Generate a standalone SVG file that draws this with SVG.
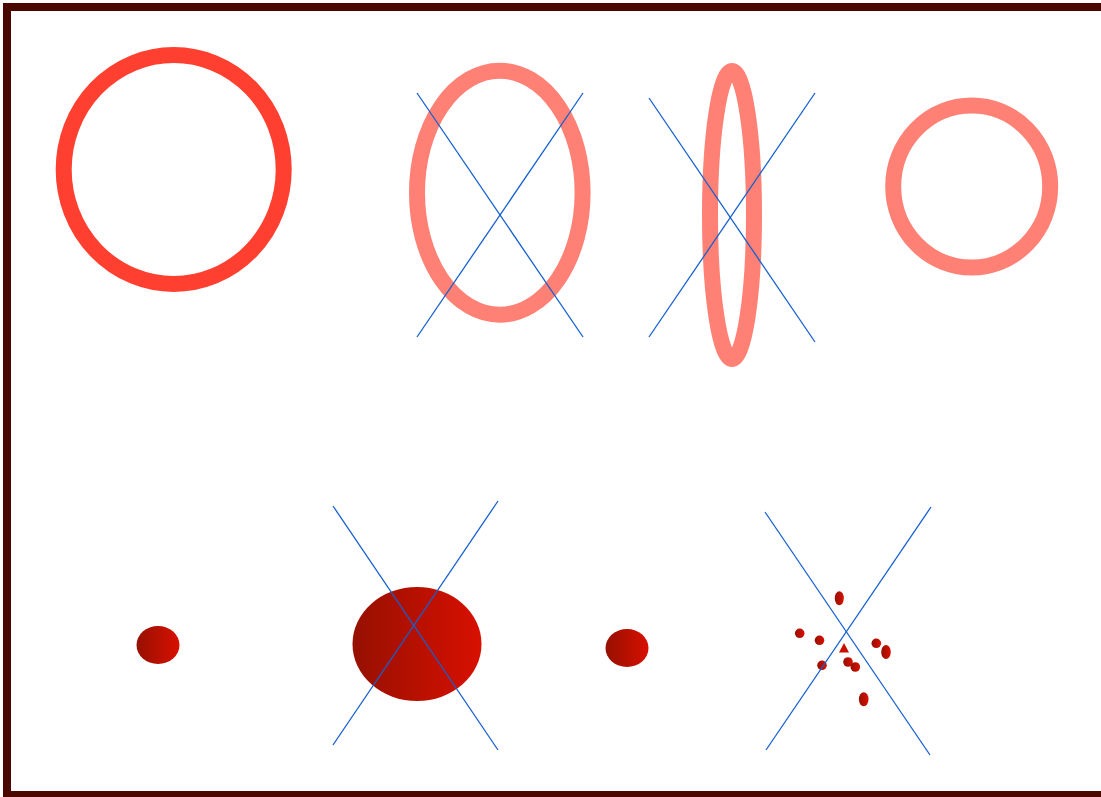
<svg xmlns="http://www.w3.org/2000/svg" width="1101" height="797" viewBox="0 0 1101 797">
<style>
.ring1{fill:none;stroke:#ff4030;stroke-width:16}
.ring2{fill:none;stroke:#ff8074;stroke-width:16}
.cross{stroke:#1560d0;stroke-width:1.3;fill:none}
.blob{fill:url(#g)}
</style>
<defs>
<linearGradient id="g" x1="0" y1="0" x2="1" y2="0">
<stop offset="0" stop-color="#961000"/>
<stop offset="1" stop-color="#d81000"/>
</linearGradient>
</defs>
<rect x="0" y="0" width="1101" height="797" fill="#fff"/>
<rect x="7" y="7" width="1100" height="788" fill="none" stroke="#4a0800" stroke-width="8"/>
<g id="ring-a"><ellipse class="ring1" cx="173.7" cy="169.5" rx="110" ry="114.5"/></g>
<g id="ring-b"><ellipse class="ring2" cx="499.8" cy="192.7" rx="82.8" ry="122"/></g>
<g id="ring-c"><ellipse class="ring2" cx="732" cy="215" rx="22" ry="144"/></g>
<g id="ring-d"><ellipse class="ring2" cx="971.7" cy="186.5" rx="78.5" ry="81"/></g>
<g id="blob-a"><ellipse class="blob" cx="158" cy="645" rx="21.5" ry="19"/></g>
<g id="blob-b"><ellipse class="blob" cx="417" cy="644" rx="64.5" ry="57"/></g>
<g id="blob-c"><ellipse class="blob" cx="627" cy="648" rx="21.5" ry="19"/></g>
<g id="dots">
<ellipse class="blob" cx="839.3" cy="598.3" rx="4.5" ry="7"/>
<ellipse class="blob" cx="799.7" cy="633.3" rx="4.8" ry="4.8"/>
<ellipse class="blob" cx="819.5" cy="640.3" rx="4.8" ry="4.8"/>
<ellipse class="blob" cx="876.3" cy="643.3" rx="4.8" ry="4.8"/>
<ellipse class="blob" cx="886" cy="652" rx="4.8" ry="7"/>
<ellipse class="blob" cx="822" cy="665.3" rx="4.8" ry="4.8"/>
<ellipse class="blob" cx="848" cy="662" rx="4.8" ry="4.8"/>
<ellipse class="blob" cx="855.3" cy="667" rx="4.8" ry="4.8"/>
<ellipse class="blob" cx="863.7" cy="699.3" rx="4.8" ry="7"/>
<polygon points="844,643 849,652.5 839,652.5" fill="#c81000"/>
</g>
<g id="connectors">
<line class="cross" x1="417" y1="93" x2="583" y2="337"/>
<line class="cross" x1="583" y1="93" x2="417" y2="337"/>
<line class="cross" x1="649" y1="98" x2="815" y2="342"/>
<line class="cross" x1="815" y1="93" x2="649" y2="337"/>
<line class="cross" x1="333" y1="506" x2="498" y2="750"/>
<line class="cross" x1="498" y1="501" x2="333" y2="745"/>
<line class="cross" x1="765" y1="512" x2="930" y2="755"/>
<line class="cross" x1="931" y1="507" x2="766" y2="750"/>
</g>
</svg>
